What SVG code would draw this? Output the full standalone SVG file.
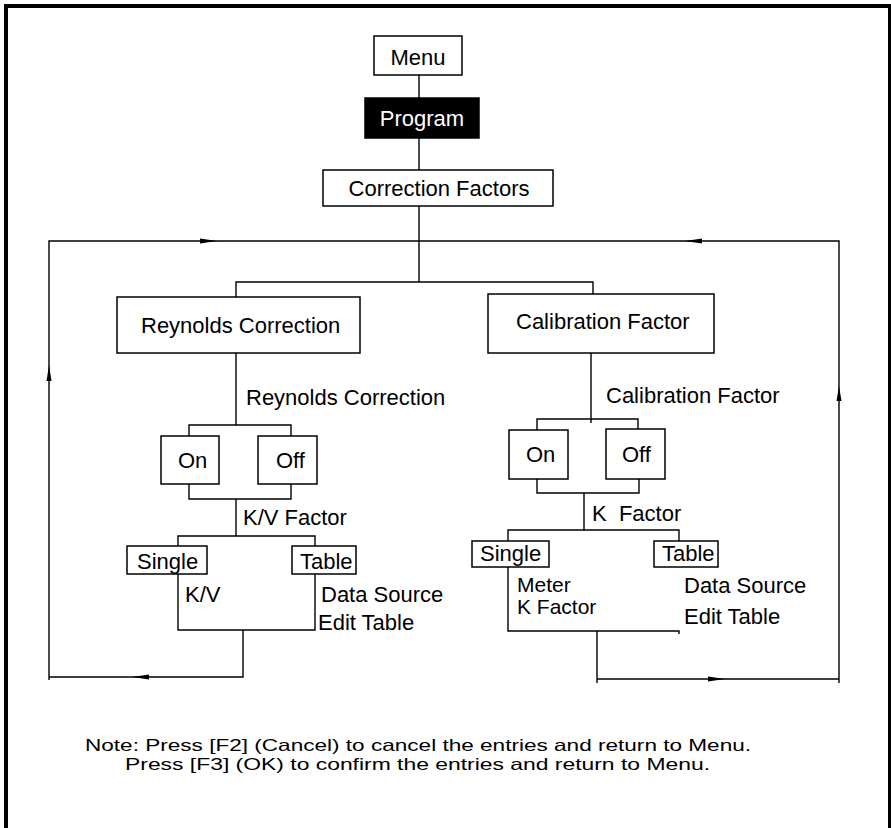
<svg xmlns="http://www.w3.org/2000/svg" width="891" height="828" viewBox="0 0 891 828">
<style>
text{font-family:"Liberation Sans",Arial,Helvetica,sans-serif;font-size:22px;fill:#000}
.box{fill:#fff;stroke:#000;stroke-width:1.5}
.dark{fill:#000;stroke:#000;stroke-width:1.5}
.ln{fill:none;stroke:#000;stroke-width:1.4}
.ah{fill:#000;stroke:none}
.note{font-size:16.5px}
.tight{font-size:21px}
</style>
<rect x="6" y="6" width="884" height="840" fill="#fff" stroke="#000" stroke-width="4"/>
<g id="connectors">
<path class="ln" d="M419 75V98M419 138V170M419 206V282"/>
<path class="ln" d="M49 680V241H839V683"/>
<path class="ln" d="M236 297V282H593V294"/>
<path class="ln" d="M236 353V425M189 436V425H291V436M189 484V499H291V484M236 499V536M178 546V536H315V546M178 574V630H315V574M243 630V677H49"/>
<path class="ln" d="M591 353V423M537 430V419H638V429M537 479V493H639V479M584 493V531M508 541V530H679V541M508 567V631H679V634M597 631V683M597 679H839"/>
<polygon class="ah" points="217,241 200,238.5 200,243.5"/>
<polygon class="ah" points="685,241 702,238.5 702,243.5"/>
<polygon class="ah" points="49,365 46.5,381 51.5,381"/>
<polygon class="ah" points="839,386 836.5,401 841.5,401"/>
<polygon class="ah" points="132,677 149,674.5 149,679.5"/>
<polygon class="ah" points="725,679 708,676.5 708,681.5"/>
</g>
<g id="menu"><rect class="box" x="374" y="36" width="88" height="39"/><text x="418" y="65" text-anchor="middle">Menu</text></g>
<g id="program"><rect class="dark" x="365" y="98" width="114" height="40"/><text x="422" y="126" text-anchor="middle" style="fill:#fff">Program</text></g>
<g id="correction-factors"><rect class="box" x="323" y="170" width="230" height="36"/><text x="439" y="196" text-anchor="middle">Correction Factors</text></g>
<g id="reynolds-correction"><rect class="box" x="117" y="297" width="243" height="56"/><text x="141" y="333">Reynolds Correction</text></g>
<g id="calibration-factor"><rect class="box" x="488" y="294" width="226" height="59"/><text x="516" y="329">Calibration Factor</text></g>
<g id="label-reynolds"><text x="246" y="405">Reynolds Correction</text></g>
<g id="label-calibration"><text x="606" y="403">Calibration Factor</text></g>
<g id="rc-on"><rect class="box" x="161" y="436" width="58" height="48"/><text x="178" y="468">On</text></g>
<g id="rc-off"><rect class="box" x="258" y="436" width="59" height="48"/><text x="276" y="468">Off</text></g>
<g id="cf-on"><rect class="box" x="509" y="430" width="59" height="49"/><text x="526" y="462">On</text></g>
<g id="cf-off"><rect class="box" x="606" y="429" width="59" height="50"/><text x="622" y="462">Off</text></g>
<g id="label-kv-factor"><text x="243" y="525">K/V Factor</text></g>
<g id="label-k-factor"><text x="592" y="521" xml:space="preserve">K  Factor</text></g>
<g id="rc-single"><rect class="box" x="127" y="546" width="80" height="28"/><text x="137" y="569">Single</text></g>
<g id="rc-table"><rect class="box" x="292" y="546" width="64" height="28"/><text x="300" y="569">Table</text></g>
<g id="cf-single"><rect class="box" x="472" y="541" width="77" height="26"/><text x="480" y="561">Single</text></g>
<g id="cf-table"><rect class="box" x="654" y="541" width="64" height="26"/><text x="662" y="561">Table</text></g>
<g id="rc-single-items"><text x="185" y="602">K/V</text></g>
<g id="rc-table-items"><text x="321" y="602">Data Source</text><text x="318" y="630">Edit Table</text></g>
<g id="cf-single-items"><text class="tight" x="517" y="592">Meter</text><text class="tight" x="517" y="614">K Factor</text></g>
<g id="cf-table-items"><text x="684" y="593">Data Source</text><text x="684" y="624">Edit Table</text></g>
<g id="note">
<text class="note" x="85" y="751" textLength="666" lengthAdjust="spacingAndGlyphs">Note: Press [F2] (Cancel) to cancel the entries and return to Menu.</text>
<text class="note" x="125" y="770" textLength="585" lengthAdjust="spacingAndGlyphs">Press [F3] (OK) to confirm the entries and return to Menu.</text>
</g>
</svg>
